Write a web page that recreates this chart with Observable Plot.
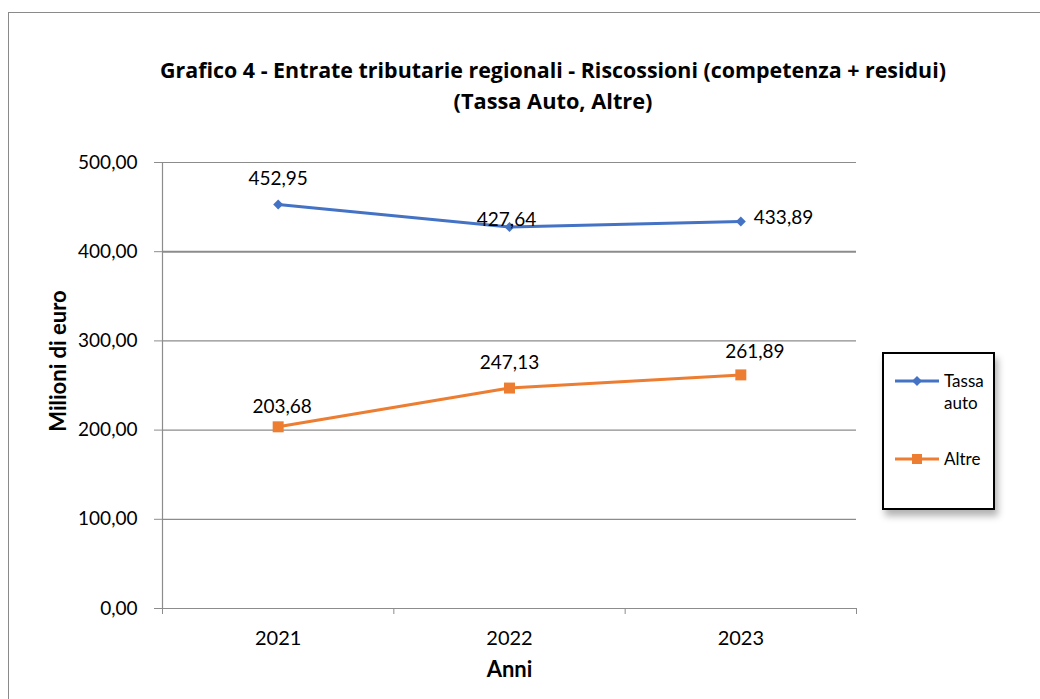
<!DOCTYPE html>
<html>
<head>
<meta charset="utf-8">
<script src="https://cdn.jsdelivr.net/npm/d3@7"></script>
<script src="https://cdn.jsdelivr.net/npm/@observablehq/plot@0.6"></script>
<style>
  html, body { margin: 0; padding: 0; background: #fff; overflow: hidden; width: 1040px; height: 699px; }
  body { position: relative; font-family: Lato, "Open Sans", sans-serif; color: #000; }
  #border { position: absolute; left: 8px; top: 12px; width: 1100px; height: 800px; border: 1px solid #8a8a8a; }
  #title { position: relative; height: 110px; width: 1040px; }
  #title div { position: absolute; left: 553px; transform: translate(-50%, -50%); white-space: nowrap; font-weight: bold; font-size: 20px; font-family: "Open Sans", Lato, sans-serif; line-height: 1; }
  #chart { position: absolute; left: 0; top: 110px; }
  #ylabel { position: absolute; left: 58px; top: 361px; transform: translate(-50%, -50%) rotate(-90deg); white-space: nowrap; font-weight: bold; font-size: 22px; line-height: 1; }
  #legend { position: absolute; left: 882px; top: 352px; width: 109px; height: 154px; border: 2px solid #000; background: #fff; box-shadow: 3px 6px 7px rgba(0,0,0,0.3); font-size: 17px; }
  .item { position: absolute; left: 10px; display: flex; align-items: flex-start; }
  .item svg { flex: none; }
  .item span { margin-left: 4px; line-height: 22px; }
</style>
</head>
<body>
<div id="border"></div>
<div id="title">
  <div id="t1" style="top:70px">Grafico 4 - Entrate tributarie regionali - Riscossioni (competenza + residui)</div>
  <div id="t2" style="top:101px">(Tassa Auto, Altre)</div>
</div>
<div id="chart"></div>
<div id="ylabel">Milioni di euro</div>
<div id="legend"></div>
<script>
const years = ["2021", "2022", "2023"];
const tassaAuto = [452.95, 427.64, 433.89];
const altre = [203.68, 247.13, 261.89];
const seriesNames = ["Tassa auto", "Altre"];
const colors = ["#4472C4", "#ED7D31"];
const yTicks = [0, 100, 200, 300, 400, 500];

const fmt = v => v.toFixed(2).replace(".", ",");
const rows = [];
years.forEach((y, i) => {
  rows.push({series: seriesNames[0], i, year: y, value: tassaAuto[i]});
  rows.push({series: seriesNames[1], i, year: y, value: altre[i]});
});
const tRows = rows.filter(d => d.series === seriesNames[0]);
const aRows = rows.filter(d => d.series === seriesNames[1]);
// label offsets per point (layout only)
const tOff = [{dx: 0, dy: -26, a: "middle"}, {dx: -3, dy: -7, a: "middle"}, {dx: 13, dy: -4, a: "start"}];
const aOff = [{dx: 4, dy: -20, a: "middle"}, {dx: 0, dy: -25, a: "middle"}, {dx: 14, dy: -23, a: "middle"}];

const font = "Lato, 'Open Sans', sans-serif";
const grid = "#8c8c8c";
const bounds = [-0.5, 0.5, 1.5, 2.5];

const labelMarks = (data, offs) => offs.map((o, k) =>
  Plot.text([data[k]], {x: "i", y: "value", text: d => fmt(d.value), dx: o.dx, dy: o.dy, textAnchor: o.a, fontSize: 19, fill: "#000"})
);

const plot = Plot.plot({
  width: 1040,
  height: 589,
  marginLeft: 162,
  marginRight: 184,
  marginTop: 52,
  marginBottom: 91,
  style: {fontFamily: font, background: "transparent", overflow: "visible"},
  x: {type: "linear", domain: [-0.5, 2.5]},
  y: {domain: [0, 500]},
  marks: [
    Plot.ruleY(yTicks.filter(v => v > 0), {stroke: grid, strokeWidth: d => d === 400 ? 2 : 1.2}),
    Plot.ruleX([-0.5], {stroke: grid, strokeWidth: 1.2}),
    Plot.ruleY([0], {stroke: grid, strokeWidth: 1.2}),
    Plot.axisY({ticks: yTicks, tickFormat: fmt, tickSize: 8, tickPadding: 17, stroke: grid, fontSize: 19, fill: "#000", label: null}),
    Plot.axisX({ticks: bounds, tickFormat: () => "", tickSize: 6, stroke: grid, label: null}),
    Plot.axisX({ticks: [0, 1, 2], tickFormat: i => years[i], tickSize: 0, tickPadding: 22, fontSize: 20, fill: "#000", label: null}),
    Plot.text(["Anni"], {frameAnchor: "bottom", dy: 68, fontSize: 22, fontWeight: "bold", fill: "#000"}),
    Plot.line(tRows, {x: "i", y: "value", stroke: colors[0], strokeWidth: 3}),
    Plot.dot(tRows, {x: "i", y: "value", symbol: "diamond2", r: 4.5, fill: colors[0], stroke: "none"}),
    Plot.line(aRows, {x: "i", y: "value", stroke: colors[1], strokeWidth: 3}),
    Plot.dot(aRows, {x: "i", y: "value", symbol: "square", r: 6.2, fill: colors[1], stroke: "none"}),
    ...labelMarks(tRows, tOff),
    ...labelMarks(aRows, aOff)
  ]
});
document.getElementById("chart").appendChild(plot);

// fit title lines to the reference widths
[["t1", 786], ["t2", 199]].forEach(([id, w]) => {
  const el = document.getElementById(id);
  const cur = el.getBoundingClientRect().width;
  el.style.fontSize = (20 * w / cur).toFixed(2) + "px";
});

// legend
const legend = document.getElementById("legend");
const items = [
  {name: "Tassa<br>auto", color: colors[0], top: 16, shape: "diamond"},
  {name: "Altre", color: colors[1], top: 94, shape: "square"}
];
items.forEach(it => {
  const div = document.createElement("div");
  div.className = "item";
  div.style.top = it.top + "px";
  const marker = it.shape === "diamond"
    ? `<path d="M23,6 L28,11 L23,16 L18,11 Z" fill="${it.color}"/>`
    : `<rect x="18" y="6" width="10" height="10" fill="${it.color}"/>`;
  div.innerHTML = `<svg width="46" height="22"><line x1="1" x2="45" y1="11" y2="11" stroke="${it.color}" stroke-width="3"/>${marker}</svg><span>${it.name}</span>`;
  legend.appendChild(div);
});
</script>
</body>
</html>
